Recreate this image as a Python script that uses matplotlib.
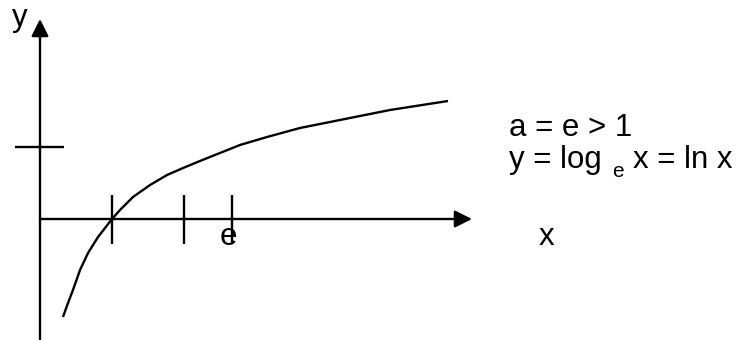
import matplotlib
matplotlib.use("Agg")
import matplotlib.pyplot as plt

# ---- data (axis units: 1 unit = tick spacing) ----
curve_x = [0.319, 0.389, 0.458, 0.556, 0.667, 0.806, 1.0, 1.111, 1.292, 1.528,
           1.764, 1.986, 2.222, 2.5, 2.778, 3.153, 3.611, 4.306, 4.861, 5.667]
curve_y = [-1.361, -1.167, -0.986, -0.708, -0.472, -0.250, 0.0, 0.125, 0.306, 0.472,
           0.611, 0.708, 0.806, 0.917, 1.028, 1.139, 1.264, 1.403, 1.514, 1.639]
x_tick_values = [1.0, 2.0, 2.67]
y_tick_values = [1.0]
x_tick_label = "e"
line1 = "a = e > 1"

W, H = 739, 340
UNIT = 72.0       # pixels per axis unit
OX, OY = 40.0, 219.0  # pixel position of origin

fig = plt.figure(figsize=(W / 100, H / 100), dpi=100)
ax = fig.add_axes([0, 0, 1, 1])
ax.set_xlim(-OX / UNIT, (W - OX) / UNIT)
ax.set_ylim((OY - H) / UNIT, OY / UNIT)
ax.axis("off")

lw = 1.7
FONT = "Liberation Sans"


def dx(px):
    return (px - OX) / UNIT


def dy(py):
    return (OY - py) / UNIT


arrow = dict(arrowstyle="-|>,head_length=0.4,head_width=0.2", lw=lw, color="black",
             shrinkA=0, shrinkB=0, mutation_scale=26)
# x axis
ax.annotate("", xy=(dx(472), 0), xytext=(0, 0), arrowprops=arrow)
# y axis
ax.annotate("", xy=(0, dy(19)), xytext=(0, dy(340)), arrowprops=arrow)

# ticks
for xv in x_tick_values:
    ax.plot([xv, xv], [dy(195), dy(244)], color="black", lw=lw, solid_capstyle="butt")
for yv in y_tick_values:
    ax.plot([dx(15), dx(64)], [yv, yv], color="black", lw=lw, solid_capstyle="butt")

# curve
ax.plot(curve_x, curve_y, color="black", lw=lw, solid_joinstyle="round",
        solid_capstyle="butt")

fs = 22.5


def ftext(px, py, s, size=fs, ha="left", va="baseline"):
    fig.text(px / W, 1 - py / H, s, fontsize=size, family=FONT, ha=ha, va=va, color="black")


ftext(12, 26, "y")
ftext(228, 245, x_tick_label, ha="center")
ftext(539, 245, "x")
ftext(509, 136, line1)
ftext(509, 168, "y = log")
ftext(612, 177, "e", size=15)
ftext(633, 168, "x = ln x")

fig.savefig("out.png", dpi=100)
